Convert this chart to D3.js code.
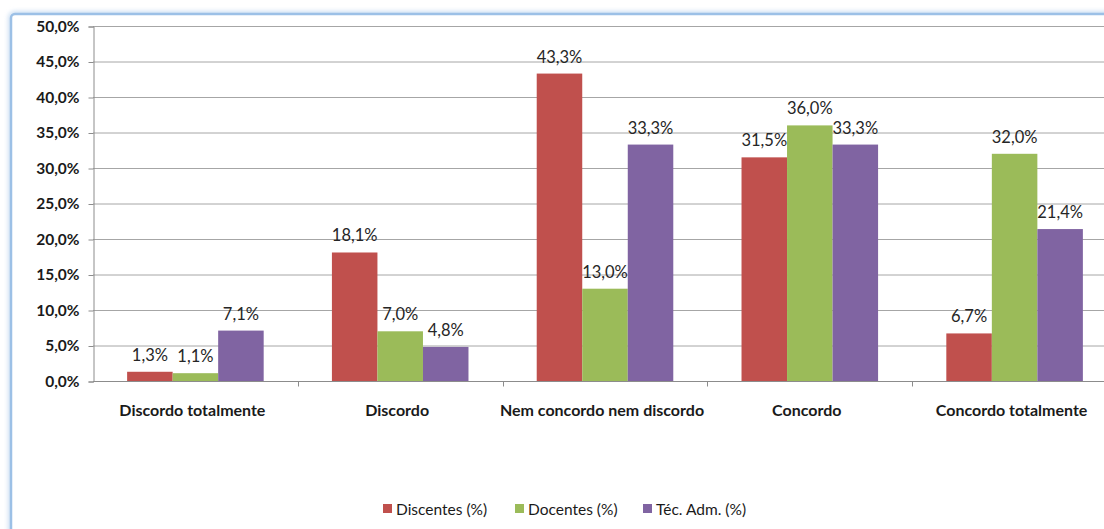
<!DOCTYPE html>
<html>
<head>
<meta charset="utf-8">
<script src="https://cdn.jsdelivr.net/npm/d3@7"></script>
<style>
  html, body { margin: 0; padding: 0; background: #fff; }
  svg { display: block; }
  .tick text { font-family: Lato, "Open Sans", sans-serif; }
</style>
</head>
<body>
<script>
var categories = ['Discordo totalmente', 'Discordo', 'Nem concordo nem discordo', 'Concordo', 'Concordo totalmente'];
var seriesNames = ['Discentes (%)', 'Docentes (%)', 'Téc. Adm. (%)'];
var discentes = [1.3, 18.1, 43.3, 31.5, 6.7];
var docentes = [1.1, 7.0, 13.0, 36.0, 32.0];
var tecAdm = [7.1, 4.8, 33.3, 33.3, 21.4];
var yTicks = [0, 5, 10, 15, 20, 25, 30, 35, 40, 45, 50];
var colors = ['#c0504d', '#9bbb59', '#8064a2'];

var seriesValues = [discentes, docentes, tecAdm];

var width = 1104, height = 529;
var plot = {left: 93, right: 1117, top: 26, bottom: 381};

var svg = d3.select('body').append('svg')
    .attr('width', width)
    .attr('height', height);

// outer frame (light blue border with soft glow)
var defs = svg.append('defs');
var glow = defs.append('filter').attr('id', 'glow')
    .attr('x', '-5%').attr('y', '-5%').attr('width', '110%').attr('height', '110%');
glow.append('feGaussianBlur').attr('stdDeviation', 2);
svg.append('rect')
    .attr('x', 11).attr('y', 14).attr('width', 1200).attr('height', 700)
    .attr('rx', 4)
    .attr('fill', 'none').attr('stroke', '#cfe0f3').attr('stroke-width', 6)
    .attr('filter', 'url(#glow)');
svg.append('rect')
    .attr('x', 11).attr('y', 14).attr('width', 1200).attr('height', 700)
    .attr('rx', 4)
    .attr('fill', '#fff').attr('stroke', '#9cc0e6').attr('stroke-width', 2.5);

var x0 = d3.scaleBand()
    .domain(categories)
    .range([plot.left, plot.right])
    .paddingInner(0).paddingOuter(0);

var groupPad = x0.bandwidth() * 0.1666;
var x1 = d3.scaleBand()
    .domain(d3.range(seriesNames.length))
    .range([groupPad, x0.bandwidth() - groupPad])
    .padding(0);

var y = d3.scaleLinear()
    .domain([0, 50])
    .range([plot.bottom, plot.top]);

// gridlines
svg.append('g')
  .selectAll('line')
  .data(yTicks.filter(function (d) { return d > 0; }))
  .enter().append('line')
    .attr('x1', plot.left).attr('x2', width)
    .attr('y1', function (d) { return y(d) + 0.5; })
    .attr('y2', function (d) { return y(d) + 0.5; })
    .attr('stroke', '#a6a6a6').attr('stroke-width', 1);

// y axis
var yAxis = svg.append('g')
    .attr('transform', 'translate(' + (plot.left + 0.5) + ',0.5)')
    .call(d3.axisLeft(y)
      .tickValues(yTicks)
      .tickSize(5)
      .tickPadding(9)
      .tickFormat(function (d) { return d.toFixed(1).replace('.', ',') + '%'; }));
yAxis.select('.domain').attr('stroke', '#8c8c8c');
yAxis.selectAll('.tick line').attr('stroke', '#8c8c8c');
yAxis.selectAll('.tick text')
    .attr('fill', '#1a1a1a')
    .style('font-size', '15.5px')
    .style('font-weight', 'bold');

// bars
var groups = svg.append('g')
  .selectAll('g')
  .data(categories)
  .enter().append('g')
    .attr('transform', function (d) { return 'translate(' + x0(d) + ',0)'; });

groups.selectAll('rect')
  .data(function (d, i) {
    return seriesValues.map(function (s, k) { return {k: k, v: s[i]}; });
  })
  .enter().append('rect')
    .attr('x', function (d) { return x1(d.k); })
    .attr('width', x1.bandwidth())
    .attr('y', function (d) { return y(d.v); })
    .attr('height', function (d) { return y(0) - y(d.v); })
    .attr('fill', function (d) { return colors[d.k]; });

groups.selectAll('text')
  .data(function (d, i) {
    return seriesValues.map(function (s, k) { return {k: k, v: s[i]}; });
  })
  .enter().append('text')
    .attr('x', function (d) { return x1(d.k) + x1.bandwidth() / 2; })
    .attr('y', function (d) { return y(d.v) - 11; })
    .attr('text-anchor', 'middle')
    .attr('font-family', 'Lato, "Open Sans", sans-serif')
    .attr('font-size', '16.5px')
    .attr('fill', '#262626')
    .text(function (d) { return d.v.toFixed(1).replace('.', ',') + '%'; });

// x axis
var xAxis = svg.append('g')
    .attr('transform', 'translate(0,' + (plot.bottom + 0.5) + ')');
xAxis.append('line')
    .attr('x1', plot.left).attr('x2', width)
    .attr('stroke', '#8c8c8c');
xAxis.selectAll('line.tk')
  .data(categories.slice(1))
  .enter().append('line')
    .attr('class', 'tk')
    .attr('x1', function (d) { return Math.round(x0(d)) + 0.5; })
    .attr('x2', function (d) { return Math.round(x0(d)) + 0.5; })
    .attr('y1', 0).attr('y2', 5)
    .attr('stroke', '#8c8c8c');
xAxis.selectAll('text')
  .data(categories)
  .enter().append('text')
    .attr('x', function (d) { return x0(d) + x0.bandwidth() / 2 - 3; })
    .attr('y', 34)
    .attr('text-anchor', 'middle')
    .attr('font-family', 'Lato, "Open Sans", sans-serif')
    .attr('font-size', '16px')
    .attr('font-weight', 'bold')
    .attr('fill', '#1a1a1a')
    .text(function (d) { return d; });

// legend
var legendX = [383, 515, 643];
var legend = svg.append('g')
  .selectAll('g')
  .data(seriesNames)
  .enter().append('g')
    .attr('transform', function (d, i) { return 'translate(' + legendX[i] + ',509)'; });
legend.append('rect')
    .attr('x', 0).attr('y', -5)
    .attr('width', 9).attr('height', 9)
    .attr('fill', function (d, i) { return colors[i]; });
legend.append('text')
    .attr('x', 13).attr('y', 5.5)
    .attr('font-family', 'Lato, "Open Sans", sans-serif')
    .attr('font-size', '15.5px')
    .attr('fill', '#1a1a1a')
    .text(function (d) { return d; });
</script>
</body>
</html>
